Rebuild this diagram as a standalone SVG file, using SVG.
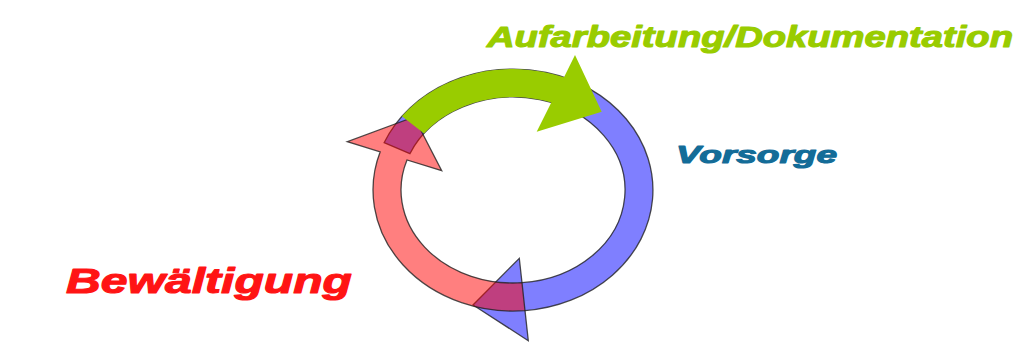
<svg xmlns="http://www.w3.org/2000/svg" width="1027" height="353" viewBox="0 0 1027 353">
  <style>
    .lbl { font-family: "Liberation Sans", Arial, sans-serif; font-weight: bold; font-style: italic; stroke-width: 1.1; stroke-linejoin: round; }
    .band { stroke: #222; stroke-opacity: 0.8; stroke-width: 1.3; stroke-linejoin: miter; }
  </style>
  <rect width="1027" height="353" fill="#ffffff"/>
  <g id="connectors">
    <g id="arrow-vorsorge">
      <path class="band" fill="#0000ff" fill-opacity="0.5" d="M 384.1 142.7 A 140 121 0 1 1 525 310.6 L 528.3 340.7 L 473 305 L 519.3 258.3 L 522 282.7 A 112 93 0 1 0 409.9 153.7 Z"/>
    </g>
    <g id="arrow-bewaeltigung">
      <path class="band" fill="#ff0000" fill-opacity="0.5" d="M 525 310.6 A 140 121 0 0 1 380.2 151.8 L 347.3 141.7 L 414 117 L 441.7 170.7 L 407 160 A 112 93 0 0 0 522 282.7 Z"/>
    </g>
    <g id="arrow-aufarbeitung">
      <path fill="#99cc00" d="M 401.9 116.3 A 140 121 0 0 1 564 77.3 L 575 55 L 601.7 111.7 L 536.7 131.7 L 551.3 102.6 A 112 93 0 0 0 424.1 133.4 Z"/>
    </g>
  </g>
  <g id="node-aufarbeitung">
    <text class="lbl" x="487" y="47" font-size="29" fill="#99cc00" stroke="#99cc00" textLength="526" lengthAdjust="spacingAndGlyphs">Aufarbeitung/Dokumentation</text>
  </g>
  <g id="node-vorsorge">
    <text class="lbl" x="676" y="163" font-size="24" fill="#136c98" stroke="#136c98" textLength="161" lengthAdjust="spacingAndGlyphs">Vorsorge</text>
  </g>
  <g id="node-bewaeltigung">
    <text class="lbl" x="66" y="293" font-size="35" fill="#ff1414" stroke="#ff1414" textLength="286" lengthAdjust="spacingAndGlyphs">Bewältigung</text>
  </g>
</svg>
